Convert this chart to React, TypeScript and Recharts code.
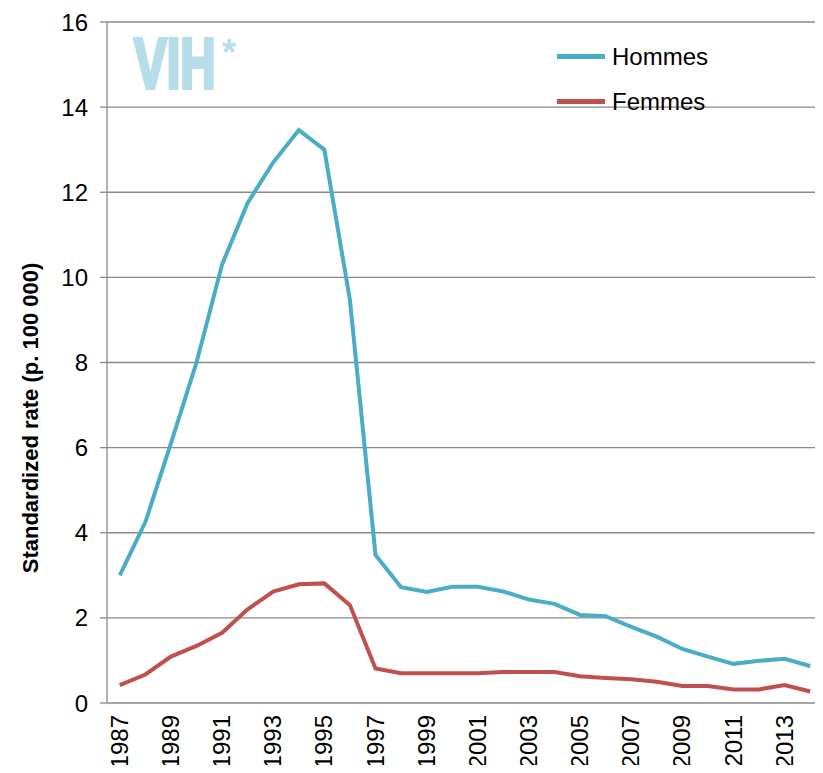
import React from "react";
import { CartesianGrid, Line, LineChart, XAxis, YAxis } from "recharts";

const years = [
  1987, 1988, 1989, 1990, 1991, 1992, 1993, 1994, 1995, 1996, 1997, 1998, 1999, 2000,
  2001, 2002, 2003, 2004, 2005, 2006, 2007, 2008, 2009, 2010, 2011, 2012, 2013, 2014,
];
const hommes = [
  3.0, 4.25, 6.1, 8.0, 10.3, 11.75, 12.7, 13.46, 13.0, 9.47, 3.48, 2.72, 2.61, 2.73,
  2.73, 2.62, 2.43, 2.33, 2.07, 2.04, 1.79, 1.56, 1.27, 1.09, 0.92, 0.99, 1.04, 0.87,
];
const femmes = [
  0.42, 0.67, 1.09, 1.34, 1.65, 2.2, 2.62, 2.79, 2.81, 2.3, 0.81, 0.7, 0.7, 0.7,
  0.7, 0.73, 0.73, 0.73, 0.63, 0.59, 0.56, 0.5, 0.4, 0.4, 0.32, 0.32, 0.42, 0.27,
];
const yTicks = [0, 2, 4, 6, 8, 10, 12, 14, 16];
const yearLabels = [1987, 1989, 1991, 1993, 1995, 1997, 1999, 2001, 2003, 2005, 2007, 2009, 2011, 2013];
const series = [
  { key: "hommes", name: "Hommes", color: "#4BACC6" },
  { key: "femmes", name: "Femmes", color: "#C0504D" },
];

const data = years.map((year, i) => ({ year, hommes: hommes[i], femmes: femmes[i] }));
const boundaries = [...years.map((y) => y - 0.5), years[years.length - 1] + 0.5];
const domain = [boundaries[0], boundaries[boundaries.length - 1]];

const FONT = "'Liberation Sans', Arial, sans-serif";
const GRAY = "#898989";

function YearTick({ x, y, payload }: any) {
  return (
    <g transform={`translate(${x},${y})`}>
      <text transform="rotate(-90)" x={-12} y={8} textAnchor="end" fontSize={24} fill="#000" fontFamily={FONT}>
        {payload.value}
      </text>
    </g>
  );
}

function YLabel() {
  return (
    <text
      x={30}
      y={418}
      transform="rotate(-90, 30, 418)"
      textAnchor="middle"
      dominantBaseline="central"
      fontSize={22}
      fontWeight="bold"
      fill="#000"
      fontFamily={FONT}
    >
      Standardized rate (p. 100 000)
    </text>
  );
}

export default function App() {
  return (
    <div style={{ position: "relative", width: 823, height: 773, margin: -8, background: "#fff", fontFamily: FONT }}>
      <LineChart width={823} height={773} data={data} margin={{ top: 22, right: 0, bottom: 0, left: 0 }}>
        <CartesianGrid vertical={false} stroke={GRAY} strokeWidth={1.3} />
        <XAxis
          dataKey="year"
          type="number"
          domain={domain}
          allowDataOverflow
          ticks={boundaries}
          interval={0}
          height={0}
          tick={false}
          tickSize={8}
          stroke={GRAY}
          strokeWidth={1.3}
        />
        <XAxis
          xAxisId="labels"
          dataKey="year"
          type="number"
          domain={domain}
          allowDataOverflow
          ticks={yearLabels}
          interval={0}
          height={70}
          axisLine={false}
          tickLine={false}
          tickSize={0}
          tickMargin={0}
          tick={<YearTick />}
        />
        <YAxis
          width={107}
          domain={[0, 16]}
          ticks={yTicks}
          interval={0}
          tickSize={7}
          tickMargin={12}
          stroke={GRAY}
          strokeWidth={1.3}
          tick={{ fontSize: 24, fill: "#000", fontFamily: FONT }}
          label={<YLabel />}
        />
        {series.map((s) => (
          <Line
            key={s.key}
            dataKey={s.key}
            name={s.name}
            type="linear"
            stroke={s.color}
            strokeWidth={4}
            dot={false}
            isAnimationActive={false}
          />
        ))}
      </LineChart>
      <div
        style={{
          position: "absolute",
          left: 134,
          top: 29,
          fontSize: 70,
          lineHeight: 1,
          fontWeight: "bold",
          color: "#b7dde8",
          WebkitTextStroke: "4px #b7dde8",
          transform: "scaleX(0.7)",
          transformOrigin: "0 0",
          whiteSpace: "nowrap",
        }}
      >
        VIH
      </div>
      <div
        style={{
          position: "absolute",
          left: 222,
          top: 35,
          fontSize: 36,
          lineHeight: 1,
          fontWeight: "bold",
          color: "#b7dde8",
        }}
      >
        *
      </div>
      <div style={{ position: "absolute", left: 557, top: 34 }}>
        {series.map((s) => (
          <div key={s.key} style={{ display: "flex", alignItems: "center", height: 45 }}>
            <div style={{ width: 48, height: 5, background: s.color, marginRight: 7 }} />
            <span style={{ fontSize: 24, color: "#000", lineHeight: 1 }}>{s.name}</span>
          </div>
        ))}
      </div>
    </div>
  );
}
